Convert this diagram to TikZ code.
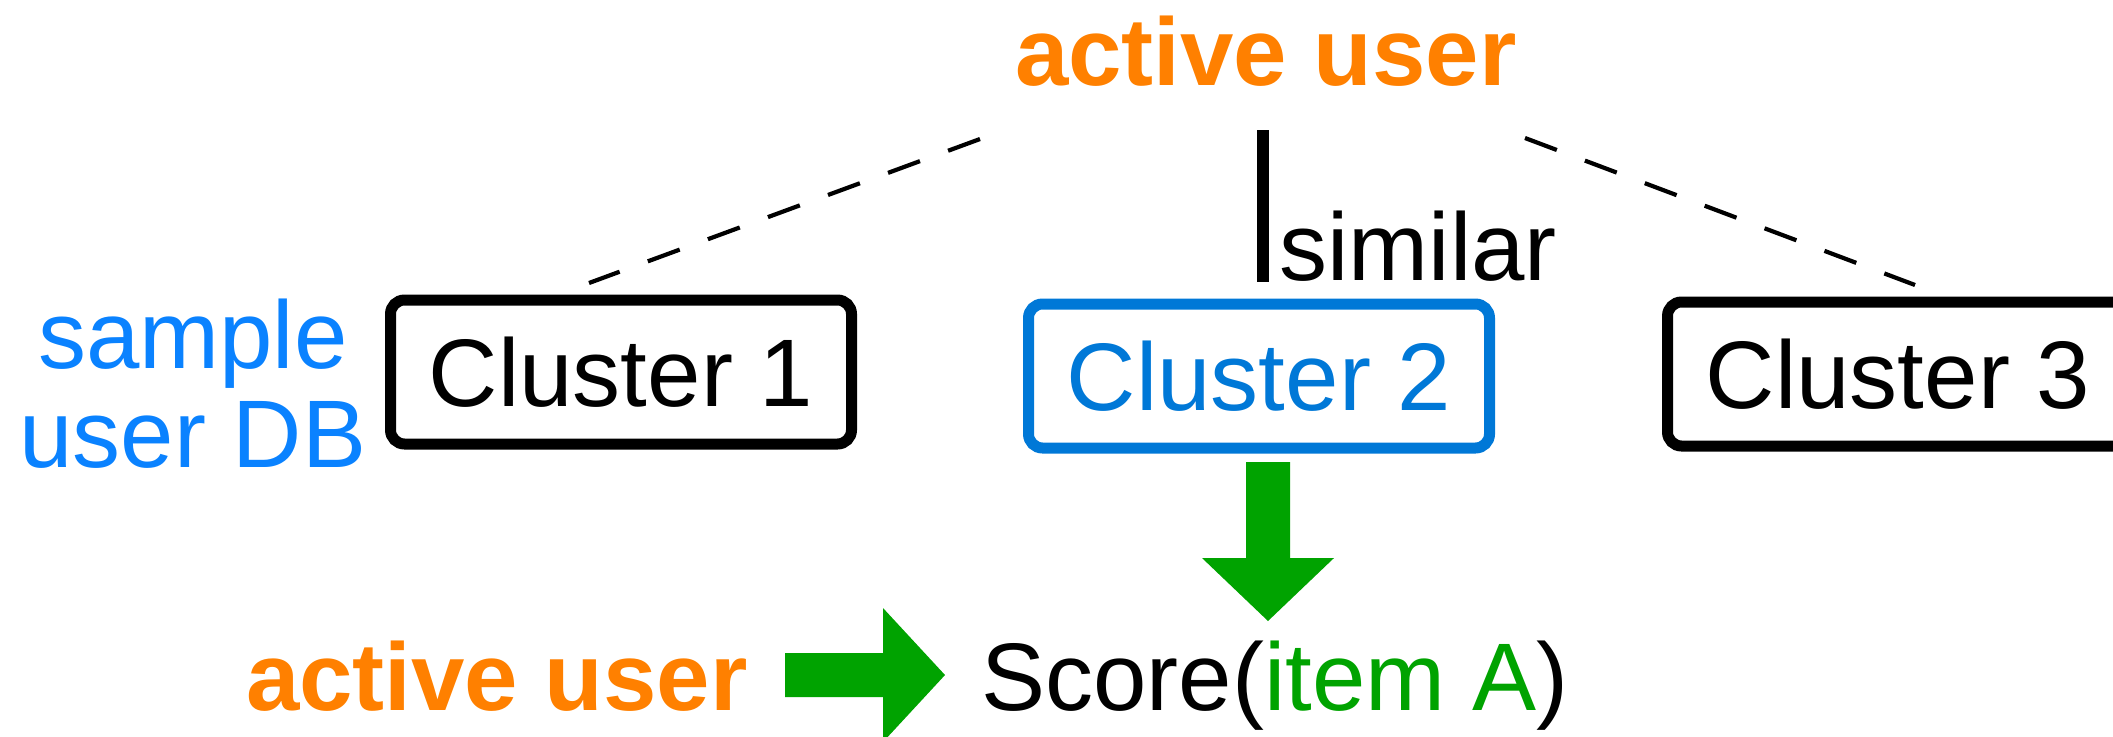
\documentclass[tikz,border=0pt]{standalone}
\usepackage{fontspec}
\setmainfont{Liberation Sans}
\definecolor{cOrange}{RGB}{255,128,0}
\definecolor{cBlueA}{RGB}{10,130,255}
\definecolor{cBlueB}{RGB}{0,120,215}
\definecolor{cGreen}{RGB}{0,163,0}
\tikzset{
  txt/.style={inner sep=0pt, font=\fontsize{48}{58}\selectfont},
  boldtxt/.style={txt, font=\fontsize{48}{58}\selectfont\bfseries, text=cOrange},
  clusterbox/.style={draw, line width=5.5pt, rounded corners=7pt, minimum width=230.5pt, minimum height=72pt, inner sep=0pt, font=\fontsize{48}{58}\selectfont},
  dashlink/.style={draw, line width=2.1pt, dash pattern=on 17pt off 15pt},
  simlink/.style={draw, line width=6pt},
  bigarrow/.style={fill=cGreen, draw=none}
}
\begin{document}
\begin{tikzpicture}[x=0.5pt,y=-0.5pt]
\useasboundingbox (0,0) rectangle (2113,736);
\clip (0,0) rectangle (2113,736);
% top label
\node[boldtxt, anchor=base] (top) at (1266,85) {active user};
% clusters
\node[clusterbox] (c1) at (621,372) {Cluster 1};
\node[clusterbox, draw=cBlueB, text=cBlueB] (c2) at (1259,376) {Cluster 2};
\node[clusterbox] (c3) at (1898,374) {Cluster 3};
% sample user DB
\node[txt, text=cBlueA, anchor=base] (db1) at (193,368) {sample};
\node[txt, text=cBlueA, anchor=base] (db2) at (193,467) {user DB};
% dashed links
\coordinate (d1s) at (980,139);
\coordinate (d1e) at (589,283);
\coordinate (d3s) at (1525,138);
\coordinate (d3e) at (1915,285);
\draw[dashlink] (d1s) -- (d1e);
\draw[dashlink] (d3s) -- (d3e);
% similar link
\coordinate (s1) at (1263,130);
\coordinate (s2) at (1263,282);
\draw[simlink] (s1) -- (s2);
\node[txt, anchor=base west] (sim) at (1279,280) {similar};
% bottom row
\node[boldtxt, anchor=base] (au) at (497,710) {active user};
\node[txt, anchor=base west] (score) at (981,710) {Score(\textcolor{cGreen}{item A})};
% green down arrow
\fill[bigarrow] (1246,462) -- (1290,462) -- (1290,558) -- (1334,558) -- (1268,621) -- (1202,558) -- (1246,558) -- cycle;
% green right arrow
\fill[bigarrow] (785,653) -- (883,653) -- (883,608) -- (945,675) -- (883,742) -- (883,697) -- (785,697) -- cycle;
\end{tikzpicture}
\end{document}
